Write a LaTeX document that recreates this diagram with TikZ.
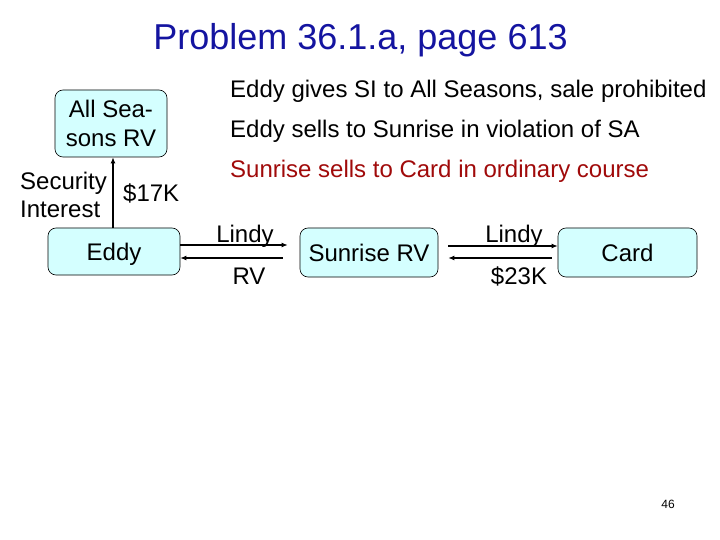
\documentclass[tikz,border=0pt]{standalone}
\usepackage{fontspec}
\setmainfont{Liberation Sans}
\usetikzlibrary{arrows.meta}
\definecolor{titleblue}{RGB}{20,20,160}
\definecolor{darkred}{RGB}{160,10,10}
\definecolor{boxfill}{RGB}{212,255,255}
\tikzset{
  box/.style={draw=black, line width=0.6pt, fill=boxfill, rounded corners=8pt, inner sep=0pt, align=center, font=\fontsize{24}{29}\selectfont},
  onebox/.style={box, text height=17.2pt, text depth=0pt},
  txt/.style={inner sep=0pt, font=\fontsize{24}{29}\selectfont},
  arr/.style={line width=1.3pt, -{Latex[length=6pt,width=5pt]}}
}
\begin{document}
\begin{tikzpicture}[x=1pt,y=-1pt]
\path[use as bounding box] (0,0) rectangle (720,540);
\node[anchor=base, inner sep=0pt, text=titleblue, font=\fontsize{36}{43}\selectfont] (title) at (360.5,50) {Problem 36.1.a, page 613};

\node[box, minimum width=112pt, minimum height=67pt] (allseasons) at (111,123.5) {All Sea-\\sons RV};
\node[onebox, minimum width=132pt, minimum height=47pt] (eddy) at (114,251.5) {Eddy};
\node[onebox, minimum width=138pt, minimum height=49pt] (sunrise) at (369,252.5) {Sunrise RV};
\node[onebox, minimum width=139pt, minimum height=49pt] (card) at (627.5,252.5) {Card};

\node[txt, anchor=base west] (si1) at (20,190) {Security};
\node[txt, anchor=base west] (si2) at (20,218) {Interest};
\node[txt, anchor=base west] (k17) at (123,202) {\$17K};

\node[txt, anchor=base west] (l1) at (230,98) {Eddy gives SI to All Seasons, sale prohibited};
\node[txt, anchor=base west] (l2) at (230,138) {Eddy sells to Sunrise in violation of SA};
\node[txt, anchor=base west, text=darkred] (l3) at (230,178) {Sunrise sells to Card in ordinary course};

\draw[arr] (eddy.north -| 113,0) -- (allseasons.south -| 113,0);

\draw[arr] ([yshift=6.5pt]eddy.east) -- ([yshift=7.5pt,xshift=-12pt]sunrise.west);
\draw[arr] ([yshift=-5.5pt,xshift=-17pt]sunrise.west) -- ([yshift=-6.5pt]eddy.east);
\draw[arr] ([yshift=6.5pt,xshift=10pt]sunrise.east) -- ([yshift=6.5pt]card.west);
\draw[arr] ([yshift=-5.5pt,xshift=-6pt]card.west) -- ([yshift=-5.5pt,xshift=10pt]sunrise.east);

\node[txt, anchor=base] (lindy1) at (245,242) {Lindy};
\node[txt, anchor=base] (rv) at (249,284) {RV};
\node[txt, anchor=base] (lindy2) at (514,242) {Lindy};
\node[txt, anchor=base] (k23) at (519,284) {\$23K};

\node[anchor=base, inner sep=0pt, font=\fontsize{12}{14}\selectfont] (pg) at (668,508) {46};
\end{tikzpicture}
\end{document}
